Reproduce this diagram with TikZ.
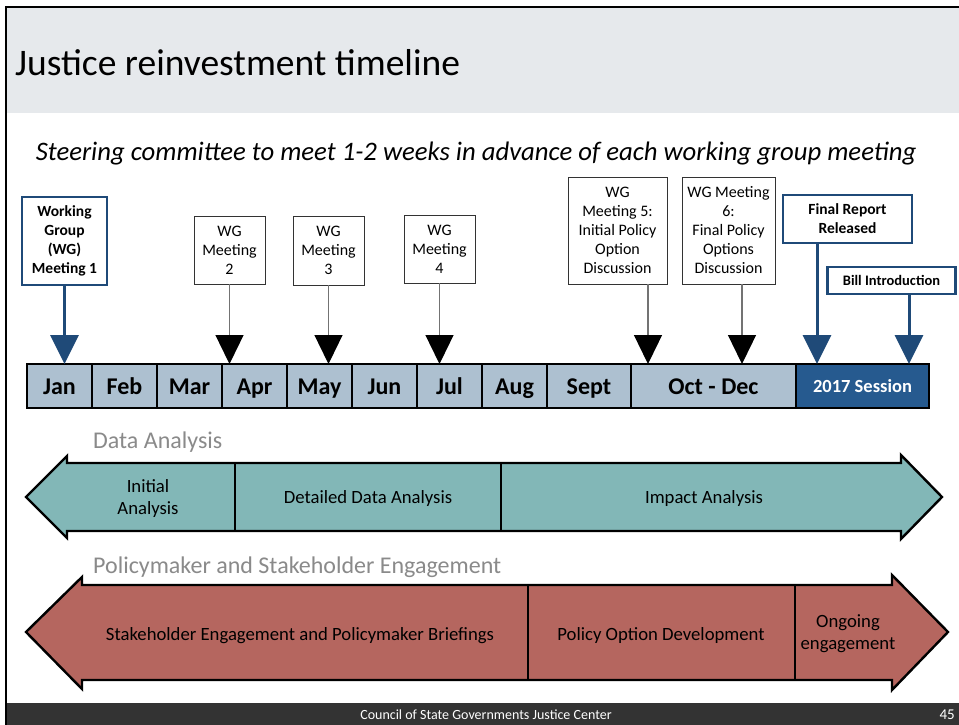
\documentclass[tikz,border=0pt]{standalone}
\usepackage{fontspec}
\setmainfont{Carlito}
\usetikzlibrary{arrows.meta, positioning}
\definecolor{jrband}{HTML}{E6E9EC}
\definecolor{jrmonth}{HTML}{ADC0D0}
\definecolor{jrsession}{HTML}{265A8F}
\definecolor{jrblue}{HTML}{1F4A78}
\definecolor{jrteal}{HTML}{82B7B7}
\definecolor{jrred}{HTML}{B5665F}
\definecolor{jrlabel}{HTML}{8A8A8A}
\definecolor{jrfoot}{HTML}{333333}

\begin{document}
\begin{tikzpicture}[
    x=1pt, y=-1pt,
    every node/.style={align=center},
    tl-month/.style={rectangle, draw=black, line width=2pt, fill=jrmonth,
        minimum width=65pt, minimum height=44pt, inner sep=0pt, outer sep=0pt,
        text height=16pt, text depth=0pt,
        font=\fontsize{24}{28}\selectfont\bfseries},
    wg-box/.style={rectangle, draw=black!80, line width=0.8pt, fill=white,
        inner sep=2pt, font=\fontsize{16}{19}\selectfont},
    key-box/.style={rectangle, draw=jrblue, line width=2.6pt, fill=white,
        inner sep=2pt, font=\fontsize{15.5}{19}\selectfont\bfseries},
    wg-arrow/.style={draw=black!55, line width=1.3pt,
        -{Triangle[length=29pt, width=28pt, color=black]}},
    key-arrow/.style={draw=jrblue, line width=3pt,
        -{Triangle[length=29pt, width=28pt, color=jrblue]}},
    band-arrow/.style={draw=black, line width=2.4pt, line join=miter},
    band-text/.style={font=\fontsize{18.7}{22}\selectfont},
    sect-label/.style={text=jrlabel, anchor=base west, inner sep=0pt,
        font=\fontsize{24}{28}\selectfont},
]
    \useasboundingbox (0,0) rectangle (959,725);

    % ---- SLIDE: frame, title band, footer ----
    \fill[white] (7,7) rectangle (959,725);
    \fill[jrband] (7,7) rectangle (959,113);
    \fill[jrfoot] (7,703) rectangle (959,725);
    \draw[line width=2.5pt] (959,7) -- (6,7) -- (6,725);

    \node[anchor=base west, inner sep=0pt, font=\fontsize{37.5}{44}\selectfont]
        (title) at (15,76) {Justice reinvestment timeline};
    \node[anchor=base, inner sep=0pt, font=\fontsize{26.7}{31}\selectfont\itshape]
        (steer) at (476,160) {Steering committee to meet 1-2 weeks in advance of each working group meeting};

    % ---- NODES: timeline bar ----
    \node[tl-month] (jan) at (59.5,386) {Jan};
    \node[tl-month, right=0pt of jan] (feb) {Feb};
    \node[tl-month, right=0pt of feb] (mar) {Mar};
    \node[tl-month, right=0pt of mar] (apr) {Apr};
    \node[tl-month, right=0pt of apr] (may) {May};
    \node[tl-month, right=0pt of may] (jun) {Jun};
    \node[tl-month, right=0pt of jun] (jul) {Jul};
    \node[tl-month, right=0pt of jul] (aug) {Aug};
    \node[tl-month, minimum width=84pt, right=0pt of aug] (sept) {Sept};
    \node[tl-month, minimum width=165pt, right=0pt of sept] (octdec) {Oct - Dec};
    \node[tl-month, minimum width=133pt, fill=jrsession, text=white, text height=12pt,
          font=\fontsize{18.5}{22}\selectfont\bfseries, right=0pt of octdec] (session) {2017 Session};

    % ---- NODES: meetings ----
    \node[key-box, minimum width=85pt, minimum height=88pt] (wg1) at (64.5,241)
        {Working\\Group\\(WG)\\Meeting 1};
    \node[wg-box, minimum width=71pt, minimum height=68pt] (wg2) at (229.5,250) {WG\\Meeting\\2};
    \node[wg-box, minimum width=71pt, minimum height=69pt] (wg3) at (328.5,250.5) {WG\\Meeting\\3};
    \node[wg-box, minimum width=71pt, minimum height=68pt] (wg4) at (439.5,249) {WG\\Meeting\\4};
    \node[wg-box, minimum width=99pt, minimum height=107pt] (wg5) at (617.5,230.5)
        {WG\\Meeting 5:\\Initial Policy\\Option\\Discussion};
    \node[wg-box, minimum width=93pt, minimum height=107pt] (wg6) at (728.5,230.5)
        {WG Meeting\\6:\\Final Policy\\Options\\Discussion};
    \node[key-box, minimum width=129pt, minimum height=48pt] (report) at (847.5,219)
        {Final Report\\Released};
    \node[key-box, minimum width=128pt, minimum height=27pt, font=\fontsize{14.5}{17}\selectfont\bfseries]
        (bill) at (891.5,280.5) {Bill Introduction};

    % arrow ends on the bar
    \coordinate (at5) at (648,364);
    \coordinate (at6) at (742,364);
    \coordinate (atrep) at (817,364);
    \coordinate (atbill) at (909,364);

    % ---- ARROWS: meetings onto the bar ----
    \draw[key-arrow] (wg1) -- (wg1 |- jan.north);
    \draw[wg-arrow] (wg2) -- (wg2 |- apr.north);
    \draw[wg-arrow] (wg3) -- (wg3 |- may.north);
    \draw[wg-arrow] (wg4) -- (wg4 |- jul.north);
    \draw[wg-arrow] (at5 |- wg5.south) -- (at5);
    \draw[wg-arrow] (at6 |- wg6.south) -- (at6);
    \draw[key-arrow] (atrep |- report.south) -- (atrep);
    \draw[key-arrow] (atbill |- bill.south) -- (atbill);

    % ---- DATA ANALYSIS band ----
    \node[sect-label] (dalabel) at (93,448) {Data Analysis};
    \draw[band-arrow, fill=jrteal] (26,497) -- (67,456) -- (67,463) -- (901,463) -- (901,455)
        -- (942,497) -- (901,539) -- (901,531) -- (67,531) -- (67,538) -- cycle;
    \draw[line width=2pt] (235,463) -- (235,531);
    \draw[line width=2pt] (501,463) -- (501,531);
    \node[band-text] (initial) at (148,499) {Initial\\Analysis};
    \node[band-text] (detailed) at (368,499) {Detailed Data Analysis};
    \node[band-text] (impact) at (704,499) {Impact Analysis};

    % ---- ENGAGEMENT band ----
    \node[sect-label] (pslabel) at (93,573) {Policymaker and Stakeholder Engagement};
    \draw[band-arrow, fill=jrred] (26,632) -- (82,577) -- (82,585) -- (892,585) -- (892,575)
        -- (948,632) -- (892,690) -- (892,680) -- (82,680) -- (82,689) -- cycle;
    \draw[line width=2pt] (528,585) -- (528,680);
    \draw[line width=2pt] (795,585) -- (795,680);
    \node[band-text] (briefings) at (300,636) {Stakeholder Engagement and Policymaker Briefings};
    \node[band-text] (optiondev) at (661,636) {Policy Option Development};
    \node[band-text] (ongoing) at (848,634) {Ongoing\\engagement};

    % ---- FOOTER ----
    \node[text=white, anchor=base, inner sep=0pt, font=\fontsize{14}{16}\selectfont] (council) at (486,719)
        {Council of State Governments Justice Center};
    \node[text=white, anchor=base east, inner sep=0pt, font=\fontsize{15}{16}\selectfont] (pageno) at (955,719) {45};

\end{tikzpicture}
\end{document}
